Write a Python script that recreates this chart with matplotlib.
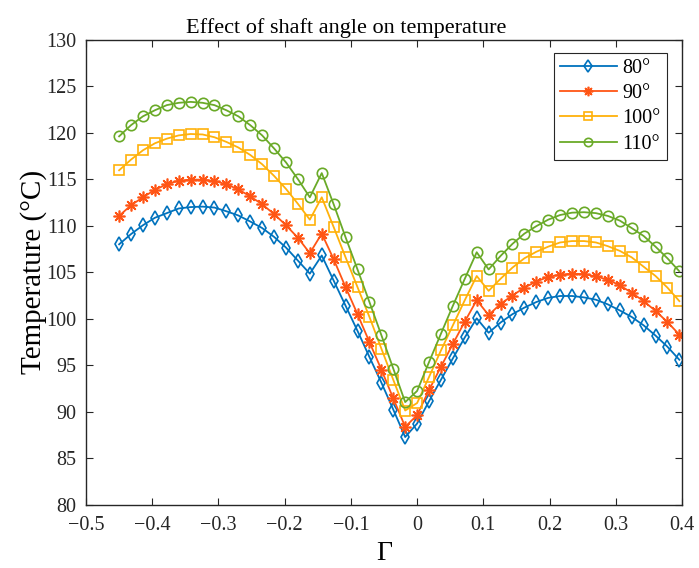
import matplotlib
matplotlib.use('Agg')
import matplotlib.pyplot as plt

gamma = [-0.450, -0.432, -0.414, -0.396, -0.378, -0.360, -0.342, -0.324,
         -0.306, -0.288, -0.270, -0.252, -0.234, -0.216, -0.198, -0.180,
         -0.162, -0.144, -0.126, -0.108, -0.090, -0.072, -0.054, -0.036,
         -0.018, 0.000, 0.018, 0.036, 0.054, 0.072, 0.090, 0.108,
         0.126, 0.144, 0.162, 0.180, 0.198, 0.216, 0.234, 0.252,
         0.270, 0.288, 0.306, 0.324, 0.342, 0.360, 0.378, 0.396]

t80 = [108.0, 109.1, 110.05, 110.85, 111.35, 111.85, 112.0, 112.05,
       111.95, 111.55, 111.1, 110.45, 109.75, 108.8, 107.65, 106.25,
       104.85, 106.8, 104.1, 101.4, 98.7, 95.9, 93.15, 90.25,
       87.3, 88.75, 91.15, 93.45, 95.75, 98.0, 100.05, 98.5,
       99.6, 100.5, 101.2, 101.8, 102.25, 102.45, 102.45, 102.3,
       102.05, 101.55, 100.9, 100.2, 99.3, 98.2, 97.0, 95.6]

t90 = [111.05, 112.2, 113.05, 113.85, 114.45, 114.85, 114.95, 114.95,
       114.8, 114.45, 113.9, 113.15, 112.3, 111.25, 110.05, 108.7,
       107.05, 109.15, 106.4, 103.4, 100.5, 97.5, 94.55, 91.45,
       88.4, 89.65, 92.35, 94.85, 97.3, 99.7, 102.0, 100.4,
       101.6, 102.5, 103.35, 104.0, 104.5, 104.75, 104.85, 104.8,
       104.55, 104.2, 103.6, 102.8, 101.9, 100.85, 99.65, 98.3]

t100 = [115.95, 117.1, 118.1, 118.85, 119.35, 119.7, 119.85, 119.8,
        119.5, 119.0, 118.4, 117.6, 116.6, 115.35, 113.95, 112.35,
        110.65, 113.05, 109.85, 106.6, 103.4, 100.2, 96.8, 93.45,
        90.15, 90.95, 93.75, 96.6, 99.3, 102.0, 104.6, 103.0,
        104.3, 105.5, 106.5, 107.2, 107.75, 108.2, 108.35, 108.35,
        108.2, 107.8, 107.3, 106.6, 105.6, 104.6, 103.35, 101.9]

t110 = [119.6, 120.8, 121.75, 122.4, 122.95, 123.2, 123.3, 123.2,
        122.95, 122.4, 121.75, 120.8, 119.7, 118.3, 116.8, 115.0,
        113.05, 115.65, 112.3, 108.75, 105.3, 101.8, 98.25, 94.65,
        91.05, 92.25, 95.35, 98.4, 101.4, 104.3, 107.15, 105.3,
        106.75, 108.05, 109.15, 109.95, 110.65, 111.15, 111.4, 111.45,
        111.35, 111.05, 110.55, 109.75, 108.9, 107.75, 106.5, 105.1]

labels = ['80°', '90°', '100°', '110°']
xticks = [-0.5, -0.4, -0.3, -0.2, -0.1, 0, 0.1, 0.2, 0.3, 0.4]
xticklabels = ['−0.5', '−0.4', '−0.3', '−0.2', '−0.1', '0', '0.1', '0.2', '0.3', '0.4']
yticks = [80, 85, 90, 95, 100, 105, 110, 115, 120, 125, 130]

plt.rcParams['font.family'] = ['Liberation Serif', 'DejaVu Serif']

fig = plt.figure(figsize=(6.99, 5.68), dpi=100)
ax = fig.add_axes([86 / 699, 1 - 505 / 568, 596 / 699, 465.5 / 568])

ax.plot(gamma, t80, color='#0072BD', marker='d', markersize=7.5, mfc='none',
        mew=1.2, lw=1.3, label=labels[0])
ax.plot(gamma, t90, color='#FF5515', marker=(8, 2, 0), markersize=8.5,
        mew=1.2, lw=1.3, label=labels[1])
ax.plot(gamma, t100, color='#FFB10A', marker='s', markersize=7, mfc='none',
        mew=1.2, lw=1.3, label=labels[2])
ax.plot(gamma, t110, color='#6AAA28', marker='o', markersize=7.5, mfc='none',
        mew=1.2, lw=1.3, label=labels[3])

ax.set_xlim(-0.5, 0.4)
ax.set_ylim(80, 130)
ax.set_xticks(xticks)
ax.set_xticklabels(xticklabels)
ax.set_yticks(yticks)
ax.tick_params(direction='in', top=True, right=True, length=5, width=0.8,
               labelsize=14.5, colors='#262626', labelcolor='#262626')
ax.tick_params(axis='x', pad=8)
ax.tick_params(axis='y', pad=7)
for s in ax.spines.values():
    s.set_linewidth(1.0)
    s.set_color('#262626')

ax.set_xlabel('Γ', fontsize=20, labelpad=4)
ax.set_ylabel('Temperature (°C)', fontsize=21, labelpad=-1)
fig.text(346 / 699, 1 - 33 / 568, 'Effect of shaft angle on temperature',
         fontsize=16, ha='center', va='baseline')

leg = ax.legend(loc='upper right', fontsize=14.5, fancybox=False, framealpha=1,
                edgecolor='#262626', handlelength=2.8, borderpad=0.3,
                labelspacing=0.3, handletextpad=0.3, borderaxespad=0,
                markerscale=0.8,
                bbox_to_anchor=((667 - 86) / 596, (505 - 53) / 465.5))
leg.get_frame().set_linewidth(0.8)

fig.savefig('out.png', dpi=100)
